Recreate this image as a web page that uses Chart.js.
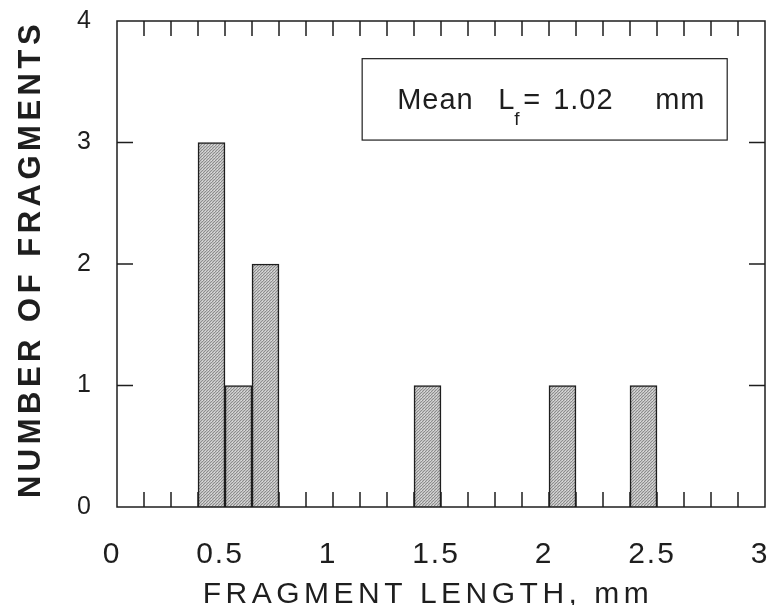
<!DOCTYPE html>
<html>
<head>
<meta charset="utf-8">
<script src="https://cdn.jsdelivr.net/npm/chart.js@4.4.0/dist/chart.umd.min.js"></script>
<style>
  html, body { margin: 0; padding: 0; background: #fff; }
</style>
</head>
<body>
<canvas id="hist" width="768" height="605"></canvas>
<script>
// histogram: bin centres (mm, bins are 0.125 wide) and counts
const binCenters = [0.4375, 0.5625, 0.6875, 1.4375, 2.0625, 2.4375];
const binCounts = [3, 1, 2, 1, 1, 1];
const xTickLabels = ['0', '0.5', '1', '1.5', '2', '2.5', '3'];
const yTickLabels = ['0', '1', '2', '3', '4'];
const xTitle = 'FRAGMENT LENGTH, mm';
const yTitle = 'NUMBER OF FRAGMENTS';
const meanParts = ['Mean', 'L', 'f', '=', '1.02', 'mm'];

const ink = '#1e1e1e';
const sans = '"Liberation Sans", Arial, Helvetica, sans-serif';

// stippled grey fill like the printed bars
function stipple() {
  const c = document.createElement('canvas');
  c.width = 3; c.height = 3;
  const g = c.getContext('2d');
  g.fillStyle = '#c4c4c4'; g.fillRect(0, 0, 3, 3);
  g.fillStyle = '#8c8c8c'; g.fillRect(0, 0, 1, 1); g.fillRect(1, 2, 1, 1); g.fillRect(2, 1, 1, 1);
  g.fillStyle = '#dcdcdc'; g.fillRect(1, 1, 1, 1);
  return g.createPattern(c, 'repeat');
}

const frameTicks = {
  id: 'frameTicks',
  beforeDraw(chart) {
    chart.ctx.letterSpacing = '2px';
  },
  beforeDatasetsDraw(chart) {
    const {ctx, chartArea: a, scales: {x, y}} = chart;
    ctx.save();
    ctx.strokeStyle = ink;
    ctx.lineWidth = 1.5;
    ctx.beginPath();
    x.ticks.forEach((t, i) => {
      if (t.value <= 0 || t.value >= 3) return;
      const px = x.getPixelForTick(i);
      ctx.moveTo(px, a.top); ctx.lineTo(px, a.top + 15);
      ctx.moveTo(px, a.bottom); ctx.lineTo(px, a.bottom - 15);
    });
    y.ticks.forEach((t, i) => {
      if (t.value <= 0 || t.value >= 4) return;
      const py = y.getPixelForTick(i);
      ctx.moveTo(a.left, py); ctx.lineTo(a.left + 16, py);
      ctx.moveTo(a.right, py); ctx.lineTo(a.right - 16, py);
    });
    ctx.stroke();
    ctx.restore();
  },
  afterDatasetsDraw(chart) {
    const {ctx, chartArea: a, scales: {x, y}} = chart;
    ctx.save();
    ctx.strokeStyle = ink;
    ctx.lineWidth = 1.5;
    ctx.strokeRect(a.left, a.top, a.right - a.left, a.bottom - a.top);

    // the "Mean Lf" box
    const bx0 = x.getPixelForValue(1.135), bx1 = x.getPixelForValue(2.825);
    const by0 = y.getPixelForValue(3.69), by1 = y.getPixelForValue(3.02);
    ctx.lineWidth = 1.2;
    ctx.strokeRect(bx0, by0, bx1 - bx0, by1 - by0);
    ctx.letterSpacing = '1px';
    ctx.fillStyle = ink;
    ctx.textBaseline = 'alphabetic';
    ctx.textAlign = 'left';
    const base = by0 + 50;
    const offs = [35, 136, 152, 161, 191, 293];
    meanParts.forEach((s, i) => {
      if (i === 2) {
        ctx.font = '19px ' + sans;
        ctx.fillText(s, bx0 + offs[i], base + 16);
      } else {
        ctx.font = '29px ' + sans;
        ctx.fillText(s, bx0 + offs[i], base);
      }
    });
    ctx.restore();
  },
  afterDraw(chart) {
    const {ctx, chartArea: a} = chart;
    ctx.save();
    ctx.fillStyle = ink;
    ctx.textAlign = 'center';
    ctx.textBaseline = 'alphabetic';
    ctx.letterSpacing = '4.5px';
    ctx.font = '30px ' + sans;
    ctx.fillText(xTitle, (a.left + a.right) / 2 - 13, 603);

    ctx.translate(40, (a.top + a.bottom) / 2 - 5);
    ctx.rotate(-Math.PI / 2);
    ctx.letterSpacing = '4.5px';
    ctx.font = 'bold 31px ' + sans;
    ctx.fillText(yTitle, 0, 0);
    ctx.restore();
  }
};

new Chart(document.getElementById('hist'), {
  type: 'bar',
  data: {
    datasets: [{
      data: binCenters.map((c, i) => ({x: c, y: binCounts[i]})),
      backgroundColor: stipple(),
      borderColor: ink,
      borderWidth: 1.6,
      borderSkipped: 'start',
      barPercentage: 1,
      categoryPercentage: 1
    }]
  },
  options: {
    responsive: false,
    animation: false,
    layout: {padding: {top: 21, right: 3, left: 0, bottom: 0}},
    plugins: {legend: {display: false}, tooltip: {enabled: false}},
    scales: {
      x: {
        type: 'linear',
        offset: false,
        min: 0, max: 3,
        grid: {display: false, offset: false},
        border: {display: false},
        ticks: {
          stepSize: 0.125,
          autoSkip: false,
          maxRotation: 0, minRotation: 0,
          padding: 22,
          labelOffset: -5,
          color: ink,
          font: {family: sans, size: 30},
          callback: (v) => {
            const k = v / 0.5;
            return Number.isInteger(k) ? xTickLabels[k] : '';
          }
        },
        afterFit: (s) => { s.height = 98; s.paddingLeft = 0; s.paddingRight = 0; }
      },
      y: {
        min: 0, max: 4,
        grid: {display: false, drawTicks: false},
        border: {display: false},
        ticks: {
          stepSize: 1,
          padding: 24,
          color: ink,
          font: {family: sans, size: 25},
          callback: (v) => yTickLabels[v]
        },
        afterFit: (s) => { s.width = 117; s.paddingTop = 0; s.paddingBottom = 0; }
      }
    }
  },
  plugins: [frameTicks]
});
</script>
</body>
</html>
